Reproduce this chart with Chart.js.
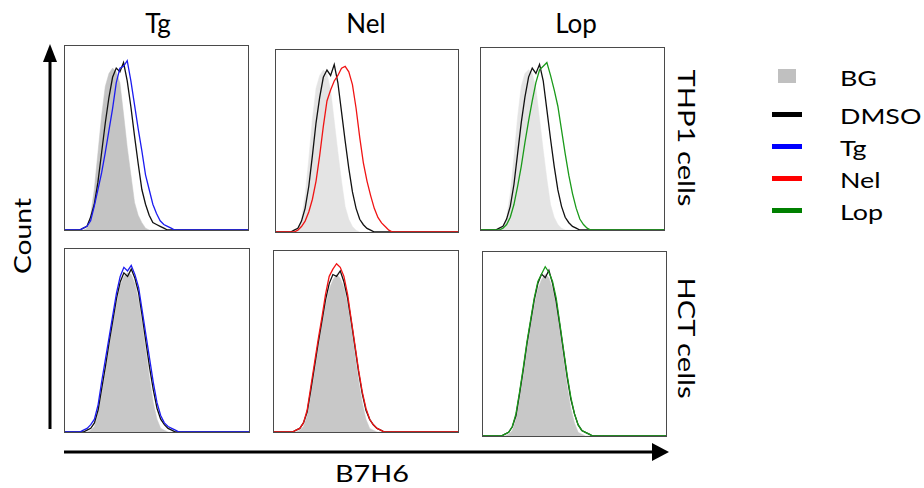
<!DOCTYPE html>
<html>
<head>
<meta charset="utf-8">
<script src="https://cdn.jsdelivr.net/npm/chart.js@4.4.0/dist/chart.umd.min.js"></script>
<style>
  body { margin: 0; background: #fff; }
  #fig { position: relative; width: 924px; height: 488px; overflow: hidden; font-family: Lato, "Open Sans", sans-serif; color: #000; }
  .panel { position: absolute; border: 1px solid #4a4a4a; background: #fff; }
  .panel canvas { display: block; }
  .lbl { position: absolute; white-space: nowrap; line-height: 1; }
  .key { position: absolute; }
</style>
</head>
<body>
<div id="fig">
  <svg width="924" height="488" style="position:absolute;left:0;top:0">
    <line x1="50" y1="429" x2="50" y2="60" stroke="#000" stroke-width="3"/>
    <polygon points="43,62 57,62 50,44" fill="#000"/>
    <line x1="64" y1="452" x2="654" y2="452" stroke="#000" stroke-width="3"/>
    <polygon points="652,443 652,461 669,452" fill="#000"/>
  </svg>
</div>
<script>
// histogram bins along B7H6 axis (relative units 0-100)
const BINS = [4,6,8,10,12,14,16,18,20,22,24,26,28,30,32,34,36,38,40,42,44,46,48,50,52,54,56,58,60,62,64,66];

const treatments = ['Tg', 'Nel', 'Lop'];
const cellLines = ['THP1 cells', 'HCT cells'];

// THP1 cells
const bgTHP1Tg   = [0,0,0,0,1,8,22,42,62,78,85,88,86,80,63,45,30,15,8,4,1,0,0,0,0,0,0,0,0,0,0,0];
const dmsoTHP1Tg = [0,0,0,1,2,7,14,26,42,58,72,83,88,86,91,81,67,51,36,22,14,8,4,3,2,1,0,0,0,0,0,0];
const tgTHP1     = [0,0,0,1,2,5,13,22,31,42,54,66,80,88,89,92,81,68,55,43,30,22,14,9,5,3,2,1,0,0,0,0];

const bgTHP1Nel   = [0,0,0,0,1,7,20,40,62,79,86,89,87,78,61,44,28,14,7,3,1,0,0,0,0,0,0,0,0,0,0,0];
const dmsoTHP1Nel = [0,0,0,1,2,6,13,25,42,60,74,85,89,86,92,82,66,50,35,22,13,7,4,2,1,0,0,0,0,0,0,0];
const nelTHP1     = [0,0,0,0,1,3,6,11,18,28,42,58,72,78,83,86,90,91,88,81,68,52,38,28,20,13,8,5,3,1,0,0];

const bgTHP1Lop   = [0,0,0,0,1,7,20,40,62,79,86,88,86,78,61,44,28,14,7,3,1,0,0,0,0,0,0,0,0,0,0,0];
const dmsoTHP1Lop = [0,0,0,1,2,6,13,25,42,59,73,84,89,86,91,82,66,50,35,22,13,7,4,2,1,0,0,0,0,0,0,0];
const lopTHP1     = [0,0,0,0,1,3,7,14,24,35,48,60,71,81,88,90,92,85,77,68,55,42,30,20,12,6,3,1,0,0,0,0];

// HCT cells
const bgHCTTg   = [0,0,0,0,0,1,3,10,21,33,46,59,70,80,85,87,86,81,72,59,44,29,16,7,2,1,0,0,0,0,0,0];
const dmsoHCTTg = [0,0,0,0,1,2,5,12,24,36,49,61,73,82,87,85,89,84,76,63,49,35,23,13,7,4,2,1,0,0,0,0];
const tgHCT     = [0,0,0,1,2,4,7,15,28,40,52,64,76,85,90,88,91,86,79,66,53,40,27,16,9,5,3,2,1,0,0,0];

const bgHCTNel   = [0,0,0,0,0,1,3,9,20,33,46,59,70,79,84,87,85,80,71,58,43,28,16,7,2,1,0,0,0,0,0,0];
const dmsoHCTNel = [0,0,0,0,1,2,5,11,23,36,49,61,73,82,87,86,89,83,74,61,47,33,21,12,7,4,2,1,0,0,0,0];
const nelHCT     = [0,0,0,0,1,2,5,12,25,38,51,63,76,86,90,93,91,86,76,62,48,34,22,13,7,4,2,1,0,0,0,0];

const bgHCTLop   = [0,0,0,0,0,1,3,9,20,33,47,60,71,80,85,88,86,80,71,57,42,27,15,7,2,1,0,0,0,0,0,0];
const dmsoHCTLop = [0,0,0,0,1,2,5,11,23,36,50,62,74,83,88,86,90,83,73,60,46,32,20,12,6,3,2,1,0,0,0,0];
const lopHCT     = [0,0,0,0,1,2,5,12,24,37,51,63,75,84,88,92,89,84,75,61,47,33,21,12,6,3,2,1,0,0,0,0];

const colors = { Tg: '#1c1cf0', Nel: '#f01414', Lop: '#1a9a1a', DMSO: '#111111' };

const panels = [
  { box: [64, 45, 185, 186],  treat: 'Tg',  bg: bgTHP1Tg,  dmso: dmsoTHP1Tg,  drug: tgTHP1,  gray: '#c4c4c4' },
  { box: [275, 49, 184, 184], treat: 'Nel', bg: bgTHP1Nel, dmso: dmsoTHP1Nel, drug: nelTHP1, gray: '#e4e4e4' },
  { box: [480, 47, 185, 184], treat: 'Lop', bg: bgTHP1Lop, dmso: dmsoTHP1Lop, drug: lopTHP1, gray: '#e4e4e4' },
  { box: [64, 248, 186, 185], treat: 'Tg',  bg: bgHCTTg,   dmso: dmsoHCTTg,   drug: tgHCT,   gray: '#c8c8c8' },
  { box: [273, 250, 186, 183],treat: 'Nel', bg: bgHCTNel,  dmso: dmsoHCTNel,  drug: nelHCT,  gray: '#c8c8c8' },
  { box: [482, 251, 185, 186],treat: 'Lop', bg: bgHCTLop,  dmso: dmsoHCTLop,  drug: lopHCT,  gray: '#c8c8c8' }
];

function pts(vals) {
  const out = [{ x: 0, y: 0 }];
  BINS.forEach((b, i) => out.push({ x: b, y: vals[i] }));
  out.push({ x: 100, y: 0 });
  return out;
}

const fig = document.getElementById('fig');

panels.forEach(p => {
  const [l, t, w, h] = p.box;
  const div = document.createElement('div');
  div.className = 'panel';
  div.style.left = l + 'px';
  div.style.top = t + 'px';
  div.style.width = (w - 2) + 'px';
  div.style.height = (h - 2) + 'px';
  const cv = document.createElement('canvas');
  cv.width = w - 2;
  cv.height = h - 2;
  div.appendChild(cv);
  fig.appendChild(div);

  new Chart(cv, {
    type: 'line',
    data: {
      datasets: [
        { label: p.treat, data: pts(p.drug), borderColor: colors[p.treat], borderWidth: 1.3, fill: false },
        { label: 'DMSO', data: pts(p.dmso), borderColor: colors.DMSO, borderWidth: 1.3, fill: false },
        { label: 'BG', data: pts(p.bg), borderColor: p.gray, backgroundColor: p.gray, borderWidth: 0.5, fill: 'origin' }
      ]
    },
    options: {
      responsive: false,
      animation: false,
      layout: { padding: 0 },
      elements: { point: { radius: 0 }, line: { tension: 0 } },
      plugins: { legend: { display: false }, tooltip: { enabled: false } },
      scales: {
        x: { type: 'linear', min: 0, max: 100, display: false },
        y: { min: 0, max: 100, display: false }
      }
    }
  });
});

// text labels
function label(text, x, y, size, transform) {
  const d = document.createElement('div');
  d.className = 'lbl';
  d.textContent = text;
  d.style.left = x + 'px';
  d.style.top = y + 'px';
  d.style.fontSize = size + 'px';
  d.style.transform = 'translate(-50%,-50%) ' + (transform || '');
  fig.appendChild(d);
}

const titleX = [158, 366, 576];
treatments.forEach((t, i) => label(t, titleX[i], 23, 26));
label(cellLines[0], 686, 138, 23, 'rotate(90deg) scaleX(1.27)');
label(cellLines[1], 686, 338, 23, 'rotate(90deg) scaleX(1.27)');
label('Count', 22, 236, 24, 'rotate(-90deg) scaleX(1.18)');
label('B7H6', 372, 473, 24, 'scaleX(1.2)');

// legend
const legendItems = ['BG', 'DMSO', 'Tg', 'Nel', 'Lop'];
const legendColors = ['#c0c0c0', '#000000', '#0000ff', '#ff0000', '#008000'];
const legendY = [78, 116, 148, 180, 212];
legendItems.forEach((name, i) => {
  const k = document.createElement('div');
  k.className = 'key';
  if (i === 0) {
    k.style.left = '778px'; k.style.top = (legendY[i] - 9) + 'px';
    k.style.width = '18px'; k.style.height = '14px';
  } else {
    k.style.left = '772px'; k.style.top = (legendY[i] - 4) + 'px';
    k.style.width = '30px'; k.style.height = '5px';
  }
  k.style.background = legendColors[i];
  fig.appendChild(k);
  const d = document.createElement('div');
  d.className = 'lbl';
  d.textContent = name;
  d.style.left = '840px';
  d.style.top = legendY[i] + 'px';
  d.style.fontSize = '22px';
  d.style.transformOrigin = '0 50%';
  d.style.transform = 'translateY(-50%) scaleX(1.22)';
  fig.appendChild(d);
});
</script>
</body>
</html>
